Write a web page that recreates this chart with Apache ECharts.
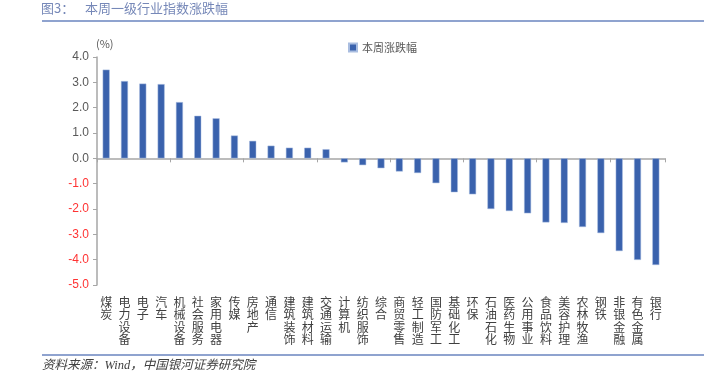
<!DOCTYPE html>
<html><head><meta charset="utf-8">
<script src="https://cdn.jsdelivr.net/npm/echarts@6/dist/echarts.min.js"></script>
<style>html,body{margin:0;padding:0;background:#fff}#c{width:725px;height:391px}</style>
</head><body><div id="c"></div>
<script>
var categories = ['煤炭','电力设备','电子','汽车','机械设备','社会服务','家用电器','传媒','房地产','通信','建筑装饰','建筑材料','交通运输','计算机','纺织服饰','综合','商贸零售','轻工制造','国防军工','基础化工','环保','石油石化','医药生物','公用事业','食品饮料','美容护理','农林牧渔','钢铁','非银金融','有色金属','银行'];
var weeklyChange = [3.50,3.05,2.95,2.93,2.22,1.68,1.58,0.90,0.69,0.50,0.42,0.42,0.36,-0.16,-0.27,-0.39,-0.52,-0.58,-0.98,-1.34,-1.42,-2.00,-2.08,-2.17,-2.53,-2.55,-2.71,-2.95,-3.66,-4.01,-4.21];
var yTicks = {min:-5, max:4, interval:1};
var seriesName = '本周涨跌幅';

var font = '"Noto Sans CJK SC","Noto Sans",sans-serif';
var chart = echarts.init(document.getElementById('c'));
chart.setOption({
  animation:false,
  backgroundColor:'#fff',
  textStyle:{fontFamily:font},
  legend:{left:343,top:37,itemWidth:8,itemHeight:8,itemGap:5,
    textStyle:{fontSize:11,color:'#595959',fontFamily:font},
    data:[{name:seriesName,icon:'rect'}]},
  grid:{left:97,right:60,top:57,bottom:106,containLabel:false},
  xAxis:[{
    type:'category',data:categories,
    axisLine:{onZero:true,lineStyle:{color:'#a6a6a6',width:1.5}},
    axisTick:{show:true,length:4,inside:false,lineStyle:{color:'#a6a6a6'}},
    axisLabel:{show:false},splitLine:{show:false}
  },{
    type:'category',data:categories,position:'bottom',
    axisLine:{show:false,onZero:false},axisTick:{show:false},
    axisLabel:{show:true,interval:0,margin:11,fontSize:12,lineHeight:12.5,color:'#404040',fontFamily:font,
      formatter:function(v){return v.split('').join('\n');}},
    splitLine:{show:false}
  }],
  yAxis:{
    type:'value',min:yTicks.min,max:yTicks.max,interval:yTicks.interval,
    axisLine:{show:true,lineStyle:{color:'#a6a6a6',width:1.5}},
    axisTick:{show:true,length:4,lineStyle:{color:'#a6a6a6'}},
    splitLine:{show:false},
    axisLabel:{margin:8,fontSize:12,fontFamily:'"Liberation Sans",sans-serif',
      formatter:function(v){return v.toFixed(1);},
      color:function(v){return Number(v)<0?'#ff3333':'#595959';}}
  },
  series:[{
    name:seriesName,type:'bar',xAxisIndex:0,data:weeklyChange,
    barWidth:7,
    itemStyle:{color:'#3a62ad',borderColor:'#a9bde0',borderWidth:0.5}
  }],
  graphic:[
    {type:'text',x:41,y:2,style:{text:'图3：',fill:'#7688b8',fontSize:13,fontFamily:font}},
    {type:'text',x:85,y:2,style:{text:'本周一级行业指数涨跌幅',fill:'#7688b8',fontSize:13,fontFamily:font}},
    {type:'rect',shape:{x:42,y:20,width:662,height:2},style:{fill:'#8fa3cf'}},
    {type:'text',x:96,y:38,style:{text:'(%)',fill:'#595959',fontSize:11,fontFamily:font}},
    {type:'rect',shape:{x:42,y:354,width:662,height:2},style:{fill:'#8fa3cf'}},
    {type:'text',x:42,y:359,style:{text:'资料来源：Wind，中国银河证券研究院',fill:'#404040',fontSize:12.5,fontStyle:'italic',fontFamily:'"Liberation Serif","Noto Sans CJK SC",serif'}}
  ]
});
</script></body></html>
